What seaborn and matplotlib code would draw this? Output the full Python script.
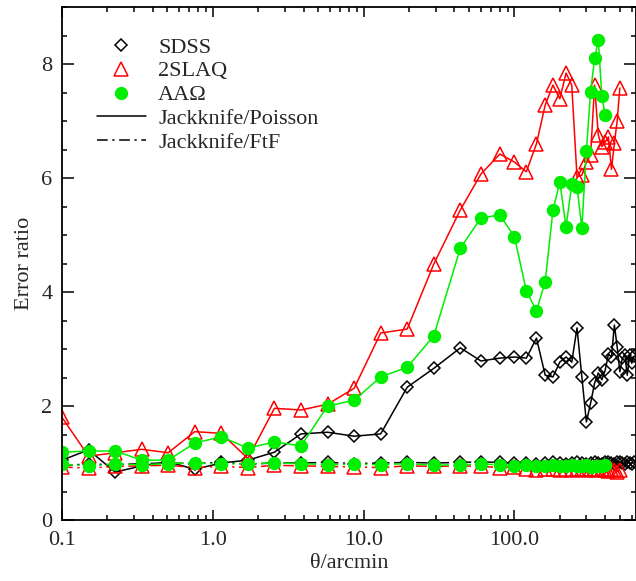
import matplotlib
matplotlib.use("Agg")
import matplotlib.pyplot as plt
import seaborn as sns
from matplotlib.lines import Line2D
from matplotlib.ticker import FixedLocator, FixedFormatter, LogLocator, NullFormatter, MultipleLocator

# ---------------- data ----------------
theta_log = [0.1, 0.15, 0.225, 0.3375, 0.506, 0.759, 1.139, 1.709, 2.563,
             3.844, 5.767, 8.65, 12.97, 19.46, 29.19, 43.79]
theta_sdss_tail = [60, 80, 100, 120, 140, 160, 180, 200, 220, 240, 260, 280, 300,
                   320, 340, 360, 380, 400, 420, 440, 460, 480, 500, 520, 540,
                   560, 580, 600, 620]
theta_2slaq_tail = [60, 80, 100, 120, 140, 160, 180, 200, 220, 240, 260, 280, 300,
                    320, 340, 360, 380, 400, 420, 440, 460, 480, 500]
theta_aao_tail = [60, 80, 100, 120, 140, 160, 180, 200, 220, 240, 260, 280, 300,
                  320, 340, 360, 380, 400]

sdss_poisson = [1.05, 1.23, 0.84, 0.95, 1.02, 0.89, 1.00, 1.05, 1.19, 1.51, 1.54,
                1.47, 1.51, 2.33, 2.66, 3.02,
                2.79, 2.84, 2.86, 2.84, 3.19, 2.54, 2.51, 2.77, 2.86, 2.77, 3.37,
                2.51, 1.72, 2.05, 2.40, 2.58, 2.46, 2.63, 2.91, 2.86, 3.42, 3.04,
                2.60, 2.84, 2.90, 2.54, 2.89, 2.75, 2.87]
sdss_ftf = [0.96, 0.98, 0.97, 0.99, 1.00, 0.99, 1.01, 0.98, 1.00, 1.00, 1.01,
            0.99, 1.00, 1.01, 1.00, 1.01,
            1.02, 1.01, 1.00, 1.00, 0.99, 1.00, 1.01, 1.00, 0.99, 1.00, 1.01,
            1.00, 0.99, 1.00, 1.01, 1.00, 0.99, 1.02, 1.01, 1.00, 0.99, 1.01,
            1.02, 1.00, 0.99, 1.01, 1.00, 0.99, 1.01]

slaq_poisson = [1.80, 1.12, 1.18, 1.24, 1.18, 1.55, 1.52, 1.08, 1.96, 1.93, 2.03,
                2.31, 3.28, 3.35, 4.49, 5.44,
                6.07, 6.42, 6.28, 6.11, 6.60, 7.28, 7.63, 7.39, 7.84, 7.63, 6.02,
                6.05, 6.28, 6.40, 7.63, 6.75, 6.55, 6.63, 6.72, 6.15, 6.61, 7.00,
                7.58]
slaq_ftf = [0.93, 0.91, 0.94, 0.95, 0.96, 0.92, 0.94, 0.92, 0.96, 0.95, 0.94,
            0.93, 0.92, 0.95, 0.94, 0.95,
            0.94, 0.92, 0.93, 0.90, 0.88, 0.89, 0.90, 0.88, 0.89, 0.87, 0.90,
            0.89, 0.88, 0.90, 0.89, 0.87, 0.90, 0.88, 0.86, 0.89, 0.87, 0.85,
            0.88]

aao_poisson = [1.19, 1.21, 1.21, 1.05, 1.05, 1.35, 1.46, 1.26, 1.37, 1.30, 2.00,
               2.10, 2.51, 2.68, 3.23, 4.77,
               5.30, 5.35, 4.97, 4.02, 3.67, 4.18, 5.43, 5.93, 5.14, 5.89, 5.85,
               5.12, 6.48, 7.51, 8.10, 8.42, 7.43, 7.10]
aao_ftf = [0.98, 0.95, 0.98, 0.97, 0.99, 1.00, 0.98, 0.99, 1.00, 0.99, 0.97,
           0.98, 0.97, 0.99, 0.96, 0.97,
           0.98, 0.97, 0.95, 0.96, 0.95, 0.94, 0.96, 0.95, 0.94, 0.96, 0.95,
           0.94, 0.97, 0.93, 0.95, 0.94, 0.95, 0.96]

series_labels = ["SDSS", "2SLAQ", "AA\u03A9"]
line_labels = ["Jackknife/Poisson", "Jackknife/FtF"]
xtick_vals = [0.1, 1.0, 10.0, 100.0]
xtick_labels = ["0.1", "1.0", "10.0", "100.0"]
ytick_vals = [0, 2, 4, 6, 8]

# ---------------- style ----------------
sns.set_style("ticks")
plt.rcParams["font.family"] = ["Liberation Serif", "DejaVu Serif"]
plt.rcParams["mathtext.fontset"] = "stix"
FS = 16

BLACK = "#000000"
RED = "#ff0000"
GREEN = "#00ee00"

fig = plt.figure(figsize=(6.36, 5.81), dpi=100)
ax = fig.add_axes([62 / 636, 1 - 520 / 581, (636 - 62) / 636, (520 - 7) / 581])

dashdot = (0, (7, 3, 1.5, 3))

specs = [
    (theta_log + theta_sdss_tail, sdss_poisson, sdss_ftf, BLACK, "D", 6.2, "none"),
    (theta_log + theta_2slaq_tail, slaq_poisson, slaq_ftf, RED, "^", 10.5, "none"),
    (theta_log + theta_aao_tail, aao_poisson, aao_ftf, GREEN, "o", 8.5, GREEN),
]

for xs, yp, yf, col, mk, ms, mfc in specs:
    for ys, ls in ((yf, dashdot), (yp, "-")):
        sns.lineplot(x=xs, y=ys, ax=ax, color=col, marker=mk, markersize=ms,
                     markerfacecolor=mfc, markeredgecolor=col, markeredgewidth=1.1,
                     linewidth=1.1, linestyle=ls, sort=False, estimator=None,
                     legend=False)

ax.set_xscale("log")
ax.set_xlim(0.1, 640)
ax.set_ylim(0, 9)

ax.xaxis.set_major_locator(FixedLocator(xtick_vals))
ax.xaxis.set_major_formatter(FixedFormatter(xtick_labels))
ax.xaxis.set_minor_locator(LogLocator(base=10, subs=range(2, 10), numticks=20))
ax.xaxis.set_minor_formatter(NullFormatter())
ax.yaxis.set_major_locator(FixedLocator(ytick_vals))
ax.yaxis.set_minor_locator(MultipleLocator(0.5))

ax.tick_params(axis="both", which="both", direction="in", top=True, right=True,
               labelsize=FS, color="black", width=1.1)
ax.tick_params(axis="x", which="major", length=7, pad=8)
ax.tick_params(axis="x", which="minor", length=3.6)
ax.tick_params(axis="y", which="major", length=8.5, pad=7)
ax.tick_params(axis="y", which="minor", length=3.6)
for sp in ax.spines.values():
    sp.set_linewidth(1.3)
    sp.set_color("black")

ax.set_xlabel("\u03B8/arcmin", fontsize=FS, labelpad=3)
ax.set_ylabel("Error ratio", fontsize=FS, labelpad=5)

handles = [
    Line2D([], [], color=BLACK, marker="D", markersize=6.2, markerfacecolor="none",
           markeredgewidth=1.1, linestyle="none"),
    Line2D([], [], color=RED, marker="^", markersize=10.5, markerfacecolor="none",
           markeredgewidth=1.1, linestyle="none"),
    Line2D([], [], color=GREEN, marker="o", markersize=8.5, markerfacecolor=GREEN,
           linestyle="none"),
    Line2D([], [], color=BLACK, linewidth=1.1, linestyle="-"),
    Line2D([], [], color=BLACK, linewidth=1.1, linestyle=dashdot),
]
fig.legend(handles, series_labels + line_labels, loc="upper left",
           bbox_to_anchor=(97 / 636, 1 - 37 / 581), frameon=False, fontsize=FS,
           handlelength=2.2, handletextpad=0.55, labelspacing=0.15,
           borderpad=0, borderaxespad=0)

fig.savefig("out.png", dpi=100)
